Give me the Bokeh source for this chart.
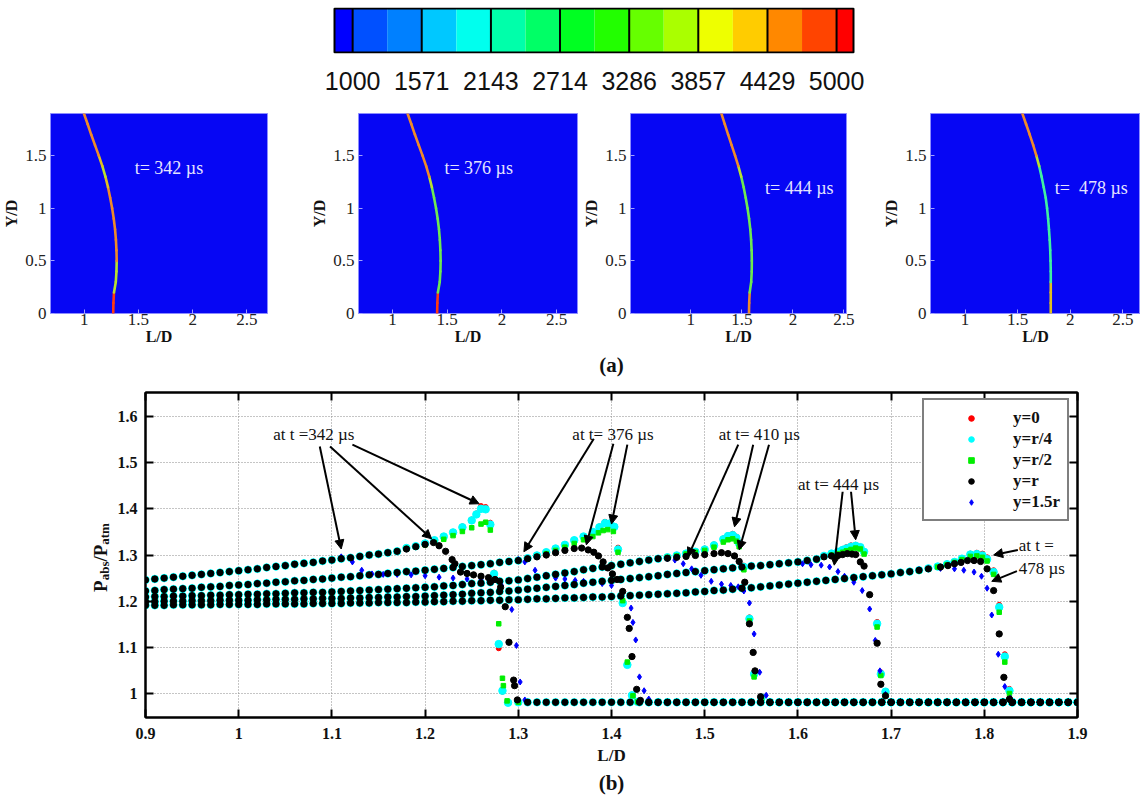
from bokeh.plotting import figure
from bokeh.models import (Range1d, FixedTicker, CustomJSTickFormatter, LinearAxis, Label, Title,
                          Arrow, NormalHead, Legend, LegendItem, ColumnDataSource)
from bokeh.layouts import column, row
from bokeh.embed import file_html
from bokeh.resources import INLINE

SERIF = "Liberation Serif"

# ---------------- colour key (contour levels) ----------------
levels = [1000, 1571, 2143, 2714, 3286, 3857, 4429, 5000]
band_colors = ["#0000ff", "#0050ff", "#0080ff", "#00c8ff", "#00ffee", "#00ffaa", "#00ff66",
               "#00ff22", "#22ff00", "#66ff00", "#aaff00", "#eeff00", "#ffcc00", "#ff8800",
               "#ff4400", "#ff0000"]

# ---------------- shock-front traces for the contour snapshots ----------------
front_Y = [0.0, 0.1, 0.2, 0.3, 0.4, 0.5, 0.6, 0.7, 0.8, 0.9, 1.0, 1.1, 1.2, 1.3, 1.4, 1.5,
           1.6, 1.7, 1.8, 1.9]
front_342 = [1.268, 1.270, 1.275, 1.292, 1.298, 1.300, 1.298, 1.293, 1.285, 1.273, 1.258, 1.240,
             1.220, 1.196, 1.168, 1.135, 1.100, 1.065, 1.032, 0.998]
front_376 = [1.408, 1.410, 1.415, 1.432, 1.438, 1.440, 1.438, 1.433, 1.425, 1.413, 1.398, 1.380,
             1.360, 1.336, 1.308, 1.275, 1.240, 1.205, 1.172, 1.138]
front_444 = [1.570, 1.572, 1.577, 1.592, 1.597, 1.598, 1.596, 1.591, 1.583, 1.571, 1.556, 1.538,
             1.518, 1.494, 1.466, 1.434, 1.400, 1.366, 1.333, 1.300]
front_478 = [1.815, 1.815, 1.815, 1.815, 1.815, 1.813, 1.810, 1.805, 1.798, 1.790, 1.780, 1.767,
             1.748, 1.728, 1.705, 1.678, 1.648, 1.615, 1.580, 1.545]
OR, RD, GR, YG, CY, YE = "#ee8a2a", "#ff3a10", "#6ee850", "#b8e030", "#40f0a0", "#e0c020"
front_col_342 = [RD, RD, YG, YG, YG, OR, OR, OR, OR, OR, OR, OR, YE, YG, YE, OR, OR, OR, OR]
front_col_376 = [RD, RD, GR, GR, GR, GR, GR, GR, GR, GR, GR, GR, YG, OR, OR, OR, OR, OR, OR]
front_col_444 = [OR, OR, GR, GR, GR, GR, GR, GR, GR, GR, GR, GR, GR, YG, OR, OR, OR, OR, OR]
front_col_478 = [YE, YE, YE, CY, CY, CY, CY, CY, CY, CY, CY, CY, CY, CY, YG, OR, OR, OR, OR]

# ---------------- pressure profiles P_abs/P_atm along L/D ----------------
AMBIENT_P = 0.981
L_GRID = [round(0.90 + 0.01 * i, 2) for i in range(101)]

# common expansion ramp behind each front (sampled every 0.01 from L/D = 0.90)
ramp_342 = [1.246, 1.248, 1.250, 1.252, 1.254, 1.256, 1.258, 1.260, 1.262, 1.264, 1.266, 1.268,
            1.270, 1.273, 1.275, 1.277, 1.280, 1.282, 1.284, 1.287, 1.289, 1.292, 1.294, 1.297,
            1.300, 1.302, 1.305, 1.308]
ramp_376 = [1.222, 1.223, 1.225, 1.226, 1.227, 1.228, 1.230, 1.231, 1.232, 1.234, 1.235,
            1.236, 1.238, 1.239, 1.241, 1.242, 1.244, 1.245, 1.247, 1.248, 1.250,
            1.252, 1.253, 1.255, 1.257, 1.258, 1.260, 1.262, 1.264, 1.265, 1.267,
            1.269, 1.271, 1.273, 1.275, 1.277, 1.279, 1.281, 1.284, 1.286, 1.288]
ramp_410 = [1.209, 1.210, 1.210, 1.211, 1.211, 1.212, 1.212, 1.213, 1.213, 1.214, 1.214,
            1.215, 1.215, 1.216, 1.216, 1.217, 1.218, 1.218, 1.219, 1.219, 1.220,
            1.221, 1.222, 1.223, 1.224, 1.225, 1.226, 1.227, 1.228, 1.229, 1.230,
            1.231, 1.233, 1.234, 1.236, 1.238, 1.239, 1.241, 1.243, 1.244, 1.246,
            1.249, 1.252, 1.255, 1.258, 1.261, 1.264, 1.268, 1.271, 1.274, 1.277,
            1.280, 1.283, 1.286, 1.289, 1.292]
ramp_444 = [1.199, 1.199, 1.200, 1.200, 1.200, 1.201, 1.201, 1.201, 1.202, 1.202, 1.202,
            1.202, 1.203, 1.203, 1.204, 1.204, 1.204, 1.205, 1.205, 1.206, 1.206,
            1.206, 1.207, 1.207, 1.208, 1.208, 1.209, 1.209, 1.210, 1.210, 1.211,
            1.212, 1.213, 1.214, 1.215, 1.217, 1.218, 1.219, 1.221, 1.222, 1.224,
            1.226, 1.228, 1.230, 1.232, 1.234, 1.236, 1.239, 1.241, 1.243, 1.245,
            1.247, 1.249, 1.251, 1.253, 1.255, 1.258, 1.260, 1.262, 1.264, 1.266,
            1.268, 1.270, 1.272, 1.274, 1.276, 1.277, 1.279, 1.281, 1.283, 1.285,
            1.288]
ramp_478 = [1.191, 1.191, 1.191, 1.192, 1.192, 1.192, 1.192, 1.192, 1.193, 1.193, 1.193,
            1.193, 1.193, 1.194, 1.194, 1.194, 1.194, 1.194, 1.195, 1.195, 1.195,
            1.195, 1.196, 1.196, 1.196, 1.197, 1.197, 1.197, 1.197, 1.198, 1.198,
            1.199, 1.199, 1.200, 1.200, 1.201, 1.201, 1.202, 1.202, 1.203, 1.203,
            1.204, 1.205, 1.205, 1.206, 1.207, 1.207, 1.208, 1.209, 1.209, 1.210,
            1.211, 1.212, 1.213, 1.214, 1.215, 1.216, 1.217, 1.218, 1.220, 1.221,
            1.223, 1.224, 1.226, 1.228, 1.229, 1.231, 1.233, 1.235, 1.237, 1.239,
            1.241, 1.243, 1.245, 1.247, 1.249, 1.251, 1.253, 1.255, 1.257, 1.259,
            1.262, 1.264]

# probe-specific data around each front: y=0, y=r/4, y=r/2, y=r, y=1.5r
L342_y0 = [1.18, 1.19, 1.20, 1.21, 1.22, 1.23, 1.24, 1.25, 1.255, 1.26, 1.265, 1.27, 1.274, 1.279, 1.283, 1.289]
P342_y0 = [1.315, 1.320, 1.326, 1.333, 1.341, 1.350, 1.362, 1.377, 1.390, 1.406, 1.404, 1.370, 1.262, 1.098, 1.004, 0.980]
L342_yq = [1.18, 1.19, 1.20, 1.21, 1.22, 1.23, 1.24, 1.25, 1.255, 1.26, 1.265, 1.27, 1.274, 1.279, 1.283, 1.289]
P342_yq = [1.315, 1.319, 1.325, 1.332, 1.340, 1.349, 1.360, 1.375, 1.388, 1.400, 1.399, 1.366, 1.259, 1.107, 1.006, 0.980]
L342_yh = [1.18, 1.19, 1.20, 1.21, 1.22, 1.23, 1.24, 1.25, 1.26, 1.265, 1.27, 1.279, 1.283, 1.284, 1.288]
P342_yh = [1.314, 1.318, 1.322, 1.327, 1.334, 1.342, 1.351, 1.359, 1.367, 1.371, 1.354, 1.151, 1.033, 1.017, 0.984]
L342_yr = [1.18, 1.19, 1.20, 1.209, 1.215, 1.222, 1.229, 1.232, 1.238, 1.245, 1.252, 1.26, 1.268, 1.275,
           1.281, 1.286, 1.290, 1.295, 1.296, 1.299]
P342_yr = [1.313, 1.318, 1.323, 1.327, 1.320, 1.308, 1.290, 1.281, 1.263, 1.260, 1.257, 1.254, 1.251, 1.247,
           1.230, 1.188, 1.111, 1.029, 1.017, 0.986]
L342_y15 = [1.11, 1.122, 1.132, 1.143, 1.155, 1.17, 1.185, 1.20, 1.215, 1.23, 1.245, 1.26, 1.272, 1.282,
            1.293, 1.298, 1.302, 1.307]
P342_y15 = [1.296, 1.285, 1.267, 1.259, 1.258, 1.258, 1.257, 1.255, 1.252, 1.250, 1.248, 1.246, 1.243, 1.234,
            1.182, 1.104, 1.025, 0.986]

L376_y0 = [1.31, 1.32, 1.33, 1.34, 1.35, 1.36, 1.37, 1.38, 1.387, 1.393, 1.398, 1.403, 1.407, 1.412, 1.417, 1.422, 1.428]
P376_y0 = [1.294, 1.300, 1.307, 1.315, 1.323, 1.333, 1.341, 1.351, 1.362, 1.372, 1.370, 1.363, 1.316, 1.200, 1.066, 0.997, 0.982]
L376_yq = [1.31, 1.32, 1.33, 1.34, 1.35, 1.36, 1.37, 1.38, 1.387, 1.393, 1.398, 1.403, 1.407, 1.412, 1.417, 1.422, 1.428]
P376_yq = [1.293, 1.299, 1.306, 1.314, 1.322, 1.332, 1.340, 1.350, 1.360, 1.369, 1.368, 1.361, 1.312, 1.196, 1.062, 0.996, 0.982]
L376_yh = [1.31, 1.32, 1.33, 1.34, 1.35, 1.36, 1.37, 1.38, 1.386, 1.391, 1.396, 1.402, 1.407, 1.412, 1.417, 1.423, 1.428]
P376_yh = [1.292, 1.297, 1.303, 1.310, 1.317, 1.325, 1.333, 1.340, 1.348, 1.353, 1.355, 1.351, 1.306, 1.201, 1.068, 0.995, 0.982]
L376_yr = [1.31, 1.32, 1.33, 1.34, 1.35, 1.36, 1.368, 1.375, 1.381, 1.386, 1.391, 1.396, 1.401, 1.406,
           1.412, 1.417, 1.419, 1.422, 1.427, 1.431]
P376_yr = [1.292, 1.296, 1.300, 1.305, 1.310, 1.314, 1.315, 1.311, 1.306, 1.298, 1.285, 1.272, 1.259, 1.247,
           1.221, 1.165, 1.141, 1.080, 1.009, 0.985]
L376_y15 = [1.30, 1.307, 1.318, 1.329, 1.34, 1.35, 1.361, 1.37, 1.379, 1.39, 1.40, 1.412, 1.421, 1.423,
            1.426, 1.430, 1.435, 1.440]
P376_y15 = [1.290, 1.285, 1.267, 1.256, 1.250, 1.248, 1.245, 1.243, 1.241, 1.238, 1.234, 1.220, 1.185, 1.154,
            1.116, 1.036, 1.006, 0.988]

L410_y0 = [1.46, 1.47, 1.48, 1.49, 1.50, 1.51, 1.52, 1.525, 1.53, 1.534, 1.537, 1.542, 1.548, 1.553, 1.561]
P410_y0 = [1.296, 1.300, 1.304, 1.308, 1.314, 1.323, 1.336, 1.343, 1.346, 1.340, 1.328, 1.277, 1.165, 1.046, 0.992]
L410_yq = [1.46, 1.47, 1.48, 1.49, 1.50, 1.51, 1.52, 1.525, 1.53, 1.534, 1.537, 1.542, 1.548, 1.553, 1.561]
P410_yq = [1.295, 1.299, 1.303, 1.307, 1.312, 1.321, 1.334, 1.341, 1.343, 1.337, 1.325, 1.274, 1.162, 1.042, 0.991]
L410_yh = [1.46, 1.47, 1.48, 1.49, 1.50, 1.51, 1.52, 1.525, 1.53, 1.534, 1.537, 1.542, 1.548, 1.553, 1.561]
P410_yh = [1.295, 1.298, 1.302, 1.306, 1.310, 1.317, 1.328, 1.333, 1.335, 1.330, 1.318, 1.268, 1.157, 1.036, 0.988]
L410_yr = [1.46, 1.47, 1.48, 1.49, 1.50, 1.51, 1.518, 1.525, 1.532, 1.537, 1.543, 1.548, 1.552, 1.554, 1.560]
P410_yr = [1.293, 1.295, 1.297, 1.299, 1.301, 1.303, 1.305, 1.303, 1.298, 1.286, 1.241, 1.151, 1.089, 1.049, 0.993]
L410_y15 = [1.46, 1.468, 1.477, 1.486, 1.496, 1.507, 1.518, 1.528, 1.536, 1.542, 1.548, 1.553, 1.559, 1.566]
P410_y15 = [1.292, 1.289, 1.281, 1.270, 1.256, 1.243, 1.237, 1.234, 1.231, 1.222, 1.196, 1.129, 1.046, 0.996]

L444_y0 = [1.62, 1.628, 1.636, 1.643, 1.648, 1.652, 1.657, 1.662, 1.667, 1.671, 1.685, 1.689, 1.694]
P444_y0 = [1.292, 1.299, 1.304, 1.309, 1.313, 1.317, 1.321, 1.322, 1.318, 1.309, 1.155, 1.046, 1.005]
L444_yq = [1.62, 1.628, 1.636, 1.643, 1.648, 1.652, 1.657, 1.662, 1.667, 1.671, 1.685, 1.689, 1.694]
P444_yq = [1.291, 1.298, 1.303, 1.307, 1.311, 1.314, 1.318, 1.320, 1.317, 1.307, 1.151, 1.042, 1.004]
L444_yh = [1.62, 1.628, 1.636, 1.643, 1.648, 1.652, 1.657, 1.662, 1.667, 1.671, 1.685, 1.689, 1.694]
P444_yh = [1.290, 1.296, 1.300, 1.303, 1.306, 1.309, 1.312, 1.315, 1.313, 1.302, 1.144, 1.039, 0.996]
L444_yr = [1.62, 1.628, 1.636, 1.643, 1.648, 1.653, 1.658, 1.662, 1.667, 1.671, 1.677, 1.685, 1.689, 1.694]
P444_yr = [1.291, 1.296, 1.298, 1.299, 1.301, 1.303, 1.302, 1.301, 1.285, 1.276, 1.214, 1.109, 1.020, 0.995]
L444_y15 = [1.605, 1.614, 1.625, 1.634, 1.643, 1.650, 1.660, 1.669, 1.677, 1.683, 1.688, 1.694]
P444_y15 = [1.281, 1.279, 1.278, 1.274, 1.264, 1.254, 1.241, 1.223, 1.183, 1.115, 1.049, 0.998]

L478_y0 = [1.73, 1.74, 1.75, 1.76, 1.768, 1.776, 1.785, 1.792, 1.798, 1.803, 1.810, 1.816, 1.822, 1.827]
P478_y0 = [1.268, 1.272, 1.276, 1.281, 1.286, 1.293, 1.303, 1.305, 1.303, 1.295, 1.267, 1.192, 1.085, 1.010]
L478_yq = [1.73, 1.74, 1.75, 1.76, 1.768, 1.776, 1.785, 1.792, 1.798, 1.803, 1.810, 1.816, 1.822, 1.827]
P478_yq = [1.267, 1.271, 1.275, 1.280, 1.285, 1.292, 1.301, 1.302, 1.299, 1.291, 1.263, 1.187, 1.080, 1.006]
L478_yh = [1.73, 1.74, 1.75, 1.76, 1.768, 1.776, 1.785, 1.792, 1.798, 1.803, 1.810, 1.816, 1.822, 1.827]
P478_yh = [1.266, 1.270, 1.274, 1.279, 1.284, 1.290, 1.297, 1.298, 1.295, 1.287, 1.258, 1.176, 1.068, 1.000]
L478_yr = [1.73, 1.74, 1.753, 1.761, 1.768, 1.775, 1.782, 1.789, 1.796, 1.803, 1.810, 1.816, 1.821, 1.827]
P478_yr = [1.267, 1.270, 1.274, 1.277, 1.281, 1.284, 1.288, 1.288, 1.286, 1.270, 1.223, 1.129, 1.035, 0.988]
L478_y15 = [1.73, 1.74, 1.753, 1.768, 1.778, 1.789, 1.797, 1.803, 1.808, 1.815, 1.822, 1.828]
P478_y15 = [1.268, 1.270, 1.271, 1.270, 1.267, 1.263, 1.254, 1.228, 1.170, 1.085, 1.015, 0.990]

probe_labels = ["y=0", "y=r/4", "y=r/2", "y=r", "y=1.5r"]
x_ticks = [0.9, 1.0, 1.1, 1.2, 1.3, 1.4, 1.5, 1.6, 1.7, 1.8, 1.9]
y_ticks = [1.0, 1.1, 1.2, 1.3, 1.4, 1.5, 1.6]


def join_profile(ramp, L_seg, P_seg):
    """Ramp samples ahead of the probe segment, the segment, then the undisturbed region."""
    L_head = [x for x in L_GRID[:len(ramp)] if x < L_seg[0] - 1e-6]
    P_head = ramp[:len(L_head)]
    L_tail = [x for x in L_GRID if x > L_seg[-1] + 0.004]
    return L_head + L_seg + L_tail, P_head + P_seg + [AMBIENT_P] * len(L_tail)


profiles = {
    "y0": [(ramp_342, L342_y0, P342_y0), (ramp_376, L376_y0, P376_y0), (ramp_410, L410_y0, P410_y0),
           (ramp_444, L444_y0, P444_y0), (ramp_478, L478_y0, P478_y0)],
    "yq": [(ramp_342, L342_yq, P342_yq), (ramp_376, L376_yq, P376_yq), (ramp_410, L410_yq, P410_yq),
           (ramp_444, L444_yq, P444_yq), (ramp_478, L478_yq, P478_yq)],
    "yh": [(ramp_342, L342_yh, P342_yh), (ramp_376, L376_yh, P376_yh), (ramp_410, L410_yh, P410_yh),
           (ramp_444, L444_yh, P444_yh), (ramp_478, L478_yh, P478_yh)],
    "yr": [(ramp_342, L342_yr, P342_yr), (ramp_376, L376_yr, P376_yr), (ramp_410, L410_yr, P410_yr),
           (ramp_444, L444_yr, P444_yr), (ramp_478, L478_yr, P478_yr)],
    "y15": [(ramp_342, L342_y15, P342_y15), (ramp_376, L376_y15, P376_y15), (ramp_410, L410_y15, P410_y15),
            (ramp_444, L444_y15, P444_y15), (ramp_478, L478_y15, P478_y15)],
}

BLANK = CustomJSTickFormatter(code="return ''")

# ======================= colour key =======================
edges = [850]
for a, b in zip(levels[:-1], levels[1:]):
    edges += [a, (a + b) / 2]
edges += [levels[-1], 5140]

# the key spans page pixels 334..853; the frame covers the full width
px_per_unit = (853 - 334) / (edges[-1] - edges[0])
cb = figure(width=1140, height=95,
            x_range=Range1d(edges[0] - 334 / px_per_unit, edges[-1] + (1140 - 853) / px_per_unit),
            y_range=Range1d(-0.025, 1.025),
            output_backend="svg", toolbar_location=None,
            min_border_left=0, min_border_right=0, min_border_top=7, min_border_bottom=42)
cb.quad(left=edges[:-1], right=edges[1:], bottom=0, top=1, fill_color=band_colors, line_color=None)
cb.segment(x0=levels, y0=0, x1=levels, y1=1, line_color="black", line_width=2)
cb.quad(left=[edges[0]], right=[edges[-1]], bottom=[0], top=[1], fill_color=None,
        line_color="black", line_width=2)
cb.outline_line_color = None
cb.grid.visible = False
cb.yaxis.visible = False
cb.xaxis.ticker = FixedTicker(ticks=levels)
cb.xaxis.formatter = CustomJSTickFormatter(code="return tick.toFixed(0)")
cb.xaxis.axis_line_color = None
cb.xaxis.major_tick_line_color = None
cb.xaxis.minor_tick_line_color = None
cb.xaxis.major_label_text_font = "Liberation Sans"
cb.xaxis.major_label_text_font_size = "25px"
cb.xaxis.major_label_text_color = "#111111"
cb.xaxis.major_label_standoff = 12


# ======================= contour snapshots =======================
def snapshot(width, left, right, x0, x1, front, colors, tlabel, tx, ty):
    p = figure(width=width, height=254, x_range=Range1d(x0, x1), y_range=Range1d(0, 1.9),
               output_backend="svg", toolbar_location=None,
               min_border_left=left, min_border_right=right, min_border_top=18, min_border_bottom=36)
    p.background_fill_color = "#0606f4"
    p.border_fill_color = "white"
    p.outline_line_color = "#8c8cff"
    p.outline_line_width = 1
    p.grid.visible = False
    p.segment(x0=front[:-1], y0=front_Y[:-1], x1=front[1:], y1=front_Y[1:],
              line_color=colors, line_width=2.6, line_cap="round")
    for ax, ticks in ((p.xaxis, [1, 1.5, 2, 2.5]), (p.yaxis, [0, 0.5, 1, 1.5])):
        ax.ticker = FixedTicker(ticks=ticks)
        ax.formatter = CustomJSTickFormatter(code="return String(tick)")
        ax.axis_line_color = None
        ax.major_tick_in = 4
        ax.major_tick_out = 0
        ax.major_tick_line_color = "#a0a0ff"
        ax.minor_tick_line_color = None
        ax.major_label_text_font = SERIF
        ax.major_label_text_font_size = "17px"
        ax.major_label_text_color = "#222222"
        ax.axis_label_text_font = SERIF
        ax.axis_label_text_font_style = "bold"
        ax.axis_label_text_font_size = "16px"
        ax.axis_label_text_color = "#111111"
    p.xaxis.axis_label = "L/D"
    p.yaxis.axis_label = "Y/D"
    p.xaxis.major_label_standoff = 0
    p.xaxis.axis_label_standoff = 0
    p.yaxis.major_label_standoff = 4
    p.yaxis.axis_label_standoff = 2
    p.add_layout(Label(x=tx, y=ty, text=tlabel, text_color="#e4e4ff", text_font=SERIF,
                       text_font_size="18px", text_baseline="middle"))
    return p


s1 = snapshot(300, 48, 33, 0.69, 2.69, front_342, front_col_342, "t= 342 \u00b5s", 1.466, 1.387)
s2 = snapshot(280, 58, 3, 0.69, 2.69, front_376, front_col_376, "t= 376 \u00b5s", 1.475, 1.387)
s3 = snapshot(300, 46, 34, 0.41, 2.525, front_444, front_col_444, "t= 444 \u00b5s", 1.727, 1.19)
s4 = snapshot(260, 47, 0, 0.672, 2.668, front_478, front_col_478, "t=\u00a0 478 \u00b5s", 1.853, 1.197)

# ======================= pressure profiles =======================
MAIN_H, MAIN_TOP, MAIN_BOTTOM = 451, 42, 83
STRIP_W = 114
p = figure(width=1140 - STRIP_W, height=MAIN_H, x_range=Range1d(0.9, 1.9), y_range=Range1d(0.948, 1.652),
           output_backend="svg", toolbar_location=None, title_location=None,
           min_border_left=143 - STRIP_W, min_border_right=63, min_border_top=MAIN_TOP,
           min_border_bottom=MAIN_BOTTOM)
p.background_fill_color = "white"
p.border_fill_color = "white"
p.outline_line_color = "black"
p.outline_line_width = 2

styles = {
    "y0": dict(marker="circle", size=5, color="#ff0000"),
    "yq": dict(marker="circle", size=7.5, color="#00ffff"),
    "yh": dict(marker="square", size=4.5, color="#00ee00"),
    "yr": dict(marker="circle", size=6.3, color="#000000"),
    "y15": dict(marker="diamond", size=6, color="#0000ff"),
}
renderers = {}
# the 1.5r probe is drawn beneath the y=r probe so the common ramps read black
for key in ["y0", "yq", "yh", "y15", "yr"]:
    Ls, Ps = [], []
    for ramp, Lseg, Pseg in profiles[key]:
        L, P = join_profile(ramp, Lseg, Pseg)
        Ls += L
        Ps += P
    src = ColumnDataSource(dict(L=Ls, P=Ps))
    renderers[key] = p.scatter("L", "P", source=src, **styles[key])

fmt = CustomJSTickFormatter(code="return String(Math.round(tick * 10) / 10)")
p.xaxis.ticker = FixedTicker(ticks=x_ticks)
p.yaxis.ticker = FixedTicker(ticks=y_ticks)
for ax in (p.xaxis[0], p.yaxis[0]):
    ax.formatter = fmt
    ax.major_label_text_font = SERIF
    ax.major_label_text_font_style = "bold"
    ax.major_label_text_font_size = "16px"
    ax.major_label_text_color = "#111111"
    ax.axis_line_width = 2
    ax.major_tick_in = 8
    ax.major_tick_out = 0
    ax.major_tick_line_width = 2
    ax.minor_tick_line_color = None
p.xaxis.major_label_standoff = 10
p.yaxis.major_label_standoff = 8
p.xaxis.axis_label = "L/D"
p.xaxis.axis_label_text_font = SERIF
p.xaxis.axis_label_text_font_style = "bold"
p.xaxis.axis_label_text_font_size = "17px"
p.xaxis.axis_label_text_color = "#111111"
p.xaxis.axis_label_standoff = 4

# top axis carries the "(a)" tag of the snapshot row above it
top_ax = LinearAxis(ticker=FixedTicker(ticks=x_ticks), formatter=BLANK, major_label_standoff=0,
                    axis_line_width=2, major_tick_in=8, major_tick_out=0, major_tick_line_width=2,
                    minor_tick_line_color=None, axis_label="(a)", axis_label_standoff=16,
                    axis_label_text_font=SERIF, axis_label_text_font_style="bold",
                    axis_label_text_font_size="21px", axis_label_text_color="#111111")
right_ax = LinearAxis(ticker=FixedTicker(ticks=y_ticks), formatter=BLANK, major_label_standoff=0,
                      axis_line_width=2, major_tick_in=8, major_tick_out=0, major_tick_line_width=2,
                      minor_tick_line_color=None)
p.add_layout(top_ax, "above")
p.add_layout(right_ax, "right")

p.grid.grid_line_color = "#8a8a8a"
p.grid.grid_line_dash = "1 2"
p.grid.grid_line_width = 1

p.add_layout(Title(text="(b)", align="center", text_font=SERIF, text_font_size="21px",
                   text_font_style="bold", text_color="#111111", standoff=2), "below")

# time annotations with pointer arrows
notes = [
    ("at t =342 \u00b5s", 1.037, 1.561),
    ("at t= 376 \u00b5s", 1.358, 1.561),
    ("at t= 410 \u00b5s", 1.515, 1.561),
    ("at t= 444 \u00b5s", 1.600, 1.452),
    ("at t =", 1.837, 1.320),
    ("478 \u00b5s", 1.837, 1.270),
]
for txt, xv, yv in notes:
    p.add_layout(Label(x=xv, y=yv, text=txt, text_baseline="middle", text_font=SERIF,
                       text_font_size="17px", text_color="#111111"))

pointers = [
    (1.087, 1.535, 1.110, 1.313), (1.098, 1.535, 1.207, 1.335), (1.122, 1.539, 1.258, 1.411),
    (1.381, 1.552, 1.306, 1.307), (1.402, 1.541, 1.373, 1.322), (1.417, 1.539, 1.400, 1.367),
    (1.536, 1.539, 1.482, 1.296), (1.552, 1.539, 1.532, 1.361), (1.569, 1.539, 1.537, 1.311),
    (1.648, 1.437, 1.639, 1.278), (1.657, 1.437, 1.662, 1.333),
    (1.836, 1.311, 1.810, 1.300), (1.835, 1.265, 1.808, 1.243),
]
for xs, ys, xe, ye in pointers:
    p.add_layout(Arrow(end=NormalHead(size=9, fill_color="black", line_color="black", line_width=1),
                       x_start=xs, y_start=ys, x_end=xe, y_end=ye, line_width=2, line_color="black"))

legend_keys = ["y0", "yq", "yh", "yr", "y15"]
legend = Legend(items=[LegendItem(label=lab, renderers=[renderers[k]])
                       for lab, k in zip(probe_labels, legend_keys)],
                location=(777, 196), orientation="vertical", margin=0, padding=7, spacing=0,
                glyph_width=80, glyph_height=14, label_height=21, label_standoff=2,
                label_text_font=SERIF, label_text_font_style="bold", label_text_font_size="17px",
                label_text_color="#111111", border_line_color="black", border_line_width=2,
                background_fill_color="white", background_fill_alpha=1.0)
p.add_layout(legend)

# y-axis title P_abs/P_atm, composed in a strip left of the pressure plot;
# the strip's frame lines up with the plot frame (page pixels 391..717)
ylab = figure(width=STRIP_W, height=MAIN_H, x_range=Range1d(0, STRIP_W), y_range=Range1d(717, 391),
              x_axis_type=None, y_axis_type=None, output_backend="svg", toolbar_location=None,
              min_border_left=0, min_border_right=0, min_border_top=MAIN_TOP,
              min_border_bottom=MAIN_BOTTOM)
ylab.outline_line_color = None
ylab.grid.visible = False
for txt, yv, xv, fs in (("P", 591, 100, "19px"), ("abs", 579.4, 104, "13px"),
                        ("/", 560.6, 100, "19px"), ("P", 555.3, 100, "19px"),
                        ("atm", 543.7, 104, "13px")):
    ylab.add_layout(Label(x=xv, y=yv, text=txt, angle=90, angle_units="deg", text_align="left",
                          text_baseline="alphabetic", text_font=SERIF, text_font_style="bold",
                          text_font_size=fs, text_color="#111111"))

layout = column(row(cb), row(s1, s2, s3, s4), row(ylab, p))
open("out.html", "w").write(file_html(layout, INLINE))
